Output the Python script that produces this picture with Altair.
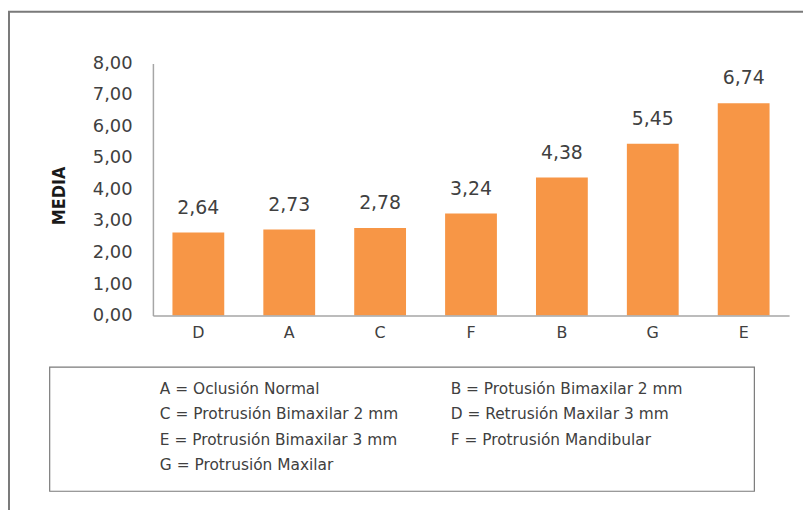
import altair as alt
import pandas as pd

categories = ["D", "A", "C", "F", "B", "G", "E"]
values = [2.64, 2.73, 2.78, 3.24, 4.38, 5.45, 6.74]
y_ticks = [0, 1, 2, 3, 4, 5, 6, 7, 8]
legend_col1 = ["A = Oclusión Normal", "C = Protrusión Bimaxilar 2 mm",
               "E = Protrusión Bimaxilar 3 mm", "G = Protrusión Maxilar"]
legend_col2 = ["B = Protusión Bimaxilar 2 mm", "D = Retrusión Maxilar 3 mm",
               "F = Protrusión Mandibular"]

df = pd.DataFrame({"cat": categories, "val": values})
df["lbl"] = [f"{v:.2f}".replace(".", ",") for v in values]

FONT = "DejaVu Sans"
FW = "normal"
TXT = "#404040"
W, H = 641, 254

x_enc = alt.X("cat:N", sort=categories, title=None,
              scale=alt.Scale(paddingInner=0.43, paddingOuter=0.215),
              axis=alt.Axis(labelAngle=0, ticks=False, domainColor="#a6a6a6",
                            domainWidth=1.5, labelFont=FONT, labelFontSize=16,
                            labelFontWeight=FW,
                            labelColor=TXT, labelPadding=9, grid=False, zindex=1))
y_enc = alt.Y("val:Q", scale=alt.Scale(domain=[0, 8], nice=False),
              axis=alt.Axis(values=y_ticks, ticks=False, grid=False, zindex=1,
                            domainColor="#a6a6a6", domainWidth=1.5,
                            labelFont=FONT, labelFontSize=18, labelColor=TXT,
                            labelFontWeight=FW, labelOverlap=False,
                            labelPadding=21,
                            labelExpr="replace(format(datum.value, '.2f'), '.', ',')",
                            title="MEDIA", titleFont="DejaVu Sans Condensed",
                            titleFontSize=18, titleFontWeight="bold",
                            titleColor="#1a1a1a", titleAngle=270,
                            titleX=-94, titleY=133, titleAlign="center",
                            titleBaseline="middle"))

base = alt.Chart(df)

frame = base.mark_rect(fillOpacity=0, stroke="#7a7a7a", strokeWidth=2).encode(
    x=alt.value(-145), x2=alt.value(W + 40), y=alt.value(-52), y2=alt.value(H + 220)
).transform_filter("datum.cat == 'D'")

legend_box = base.mark_rect(fill="white", stroke="#7a7a7a", strokeWidth=1.2).encode(
    x=alt.value(-104), x2=alt.value(606), y=alt.value(306), y2=alt.value(431)
).transform_filter("datum.cat == 'D'")

bars = base.mark_bar(color="#F79646").encode(x=x_enc, y=y_enc)

labels = base.mark_text(font=FONT, fontSize=19, fontWeight=FW, color=TXT,
                        baseline="alphabetic", dy=-19).encode(
    x=x_enc, y=y_enc, text="lbl:N")

leg1 = alt.Chart(pd.DataFrame({"t": ["\n".join(legend_col1)]})).mark_text(
    font=FONT, fontSize=15.5, fontWeight=FW, color=TXT, align="left",
    baseline="middle", lineBreak="\n", lineHeight=25.7
).encode(x=alt.value(7), y=alt.value(328), text="t:N")

leg2 = alt.Chart(pd.DataFrame({"t": ["\n".join(legend_col2)]})).mark_text(
    font=FONT, fontSize=15.5, fontWeight=FW, color=TXT, align="left",
    baseline="middle", lineBreak="\n", lineHeight=25.7
).encode(x=alt.value(300), y=alt.value(328), text="t:N")

chart = alt.layer(frame, legend_box, bars, labels, leg1, leg2).properties(
    width=W, height=H,
    padding={"left": 146, "top": 54, "right": 14, "bottom": 194},
    autosize=alt.AutoSizeParams(type="none"),
    background="white",
).configure_view(stroke=None)

chart.save("out.html", embed_options={"renderer": "svg", "actions": False})
